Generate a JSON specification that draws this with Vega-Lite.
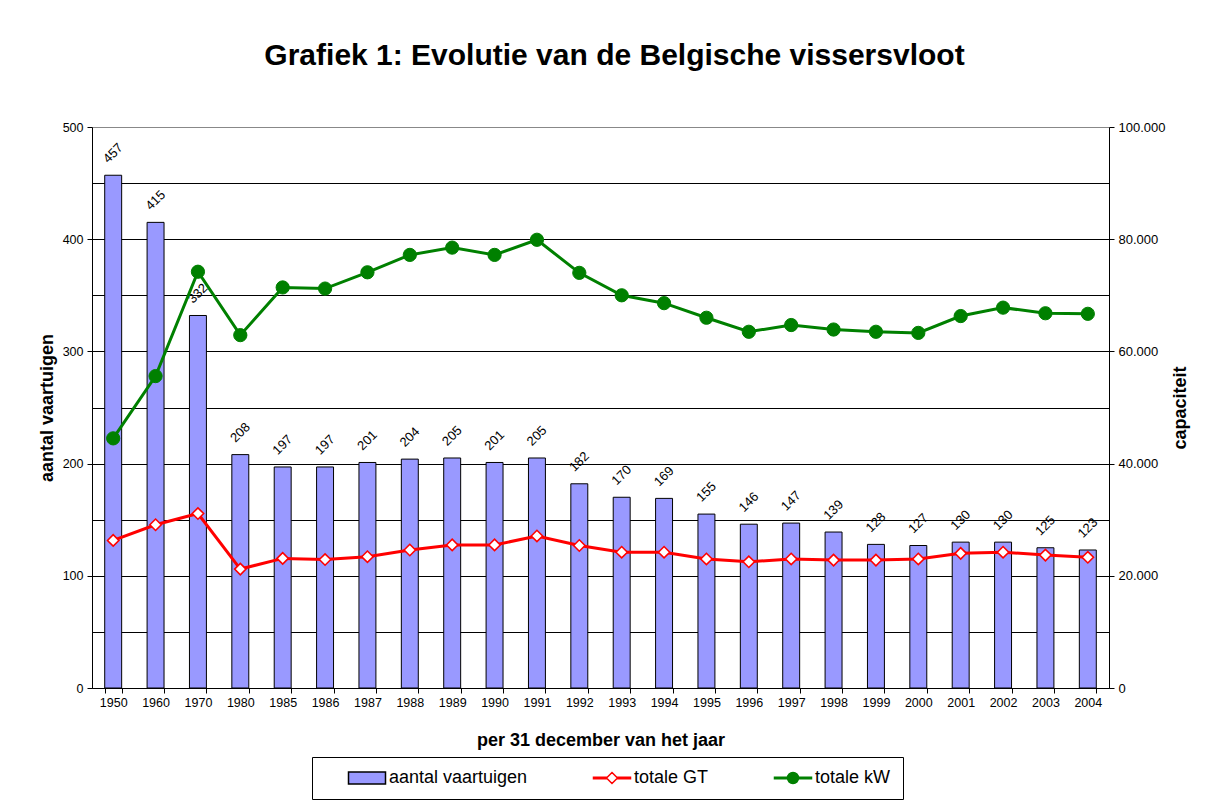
{
  "$schema": "https://vega.github.io/schema/vega-lite/v6.json",
  "width": 1017,
  "height": 561,
  "autosize": "none",
  "padding": {"left": 92, "top": 127, "right": 109, "bottom": 121},
  "background": "white",
  "config": {"font": "Liberation Sans", "view": {"stroke": null}},
  "title": {
    "text": "Grafiek 1: Evolutie van de Belgische vissersvloot",
    "fontSize": 30, "fontWeight": "bold", "font": "Liberation Sans", "color": "black",
    "anchor": "middle", "frame": "group", "offset": 50, "dx": 14
  },
  "datasets": {
    "vloot": [
      {"jaar": "1950", "aantal": 457, "gt": 26300, "kw": 44500},
      {"jaar": "1960", "aantal": 415, "gt": 29100, "kw": 55600},
      {"jaar": "1970", "aantal": 332, "gt": 31100, "kw": 74200},
      {"jaar": "1980", "aantal": 208, "gt": 21200, "kw": 62900},
      {"jaar": "1985", "aantal": 197, "gt": 23100, "kw": 71400},
      {"jaar": "1986", "aantal": 197, "gt": 22900, "kw": 71200},
      {"jaar": "1987", "aantal": 201, "gt": 23400, "kw": 74100},
      {"jaar": "1988", "aantal": 204, "gt": 24600, "kw": 77200},
      {"jaar": "1989", "aantal": 205, "gt": 25500, "kw": 78500},
      {"jaar": "1990", "aantal": 201, "gt": 25500, "kw": 77200},
      {"jaar": "1991", "aantal": 205, "gt": 27100, "kw": 79900},
      {"jaar": "1992", "aantal": 182, "gt": 25400, "kw": 74000},
      {"jaar": "1993", "aantal": 170, "gt": 24200, "kw": 70000},
      {"jaar": "1994", "aantal": 169, "gt": 24200, "kw": 68600},
      {"jaar": "1995", "aantal": 155, "gt": 23000, "kw": 66000},
      {"jaar": "1996", "aantal": 146, "gt": 22500, "kw": 63500},
      {"jaar": "1997", "aantal": 147, "gt": 23000, "kw": 64700},
      {"jaar": "1998", "aantal": 139, "gt": 22800, "kw": 63900},
      {"jaar": "1999", "aantal": 128, "gt": 22800, "kw": 63500},
      {"jaar": "2000", "aantal": 127, "gt": 23000, "kw": 63300},
      {"jaar": "2001", "aantal": 130, "gt": 24000, "kw": 66300},
      {"jaar": "2002", "aantal": 130, "gt": 24200, "kw": 67800},
      {"jaar": "2003", "aantal": 125, "gt": 23700, "kw": 66800},
      {"jaar": "2004", "aantal": 123, "gt": 23300, "kw": 66700}
    ],
    "legende": [
      {"series": "aantal vaartuigen"},
      {"series": "totale GT"},
      {"series": "totale kW"}
    ]
  },
  "data": {"name": "vloot"},
  "layer": [
    {
      "layer": [
        {
          "mark": {"type": "bar", "fill": "#9999FF", "stroke": "black", "strokeWidth": 1},
          "encoding": {
            "x": {
              "field": "jaar", "type": "ordinal", "sort": null,
              "scale": {"paddingInner": 0.6, "paddingOuter": 0.3},
              "axis": {
                "labelAngle": 0, "tickBand": "extent", "tickSize": 5, "tickColor": "black",
                "domainColor": "black", "labelFontSize": 12.5, "labelColor": "black", "labelPadding": 3,
                "title": "per 31 december van het jaar", "titleFontSize": 18, "titleFontWeight": "bold",
                "titleColor": "black", "titlePadding": 23, "grid": false
              }
            },
            "y": {
              "field": "aantal", "type": "quantitative",
              "scale": {"domain": [0, 500], "nice": false},
              "axis": {
                "values": [0, 50, 100, 150, 200, 250, 300, 350, 400, 450, 500],
                "grid": true,
                "gridColor": {"condition": {"test": "datum.value === 500", "value": "#888888"}, "value": "black"},
                "gridWidth": 1.2,
                "labelExpr": "datum.value % 100 === 0 ? datum.label : ''",
                "tickOpacity": {"condition": {"test": "datum.value % 100 === 0", "value": 1}, "value": 0},
                "tickSize": 5, "tickColor": "black", "domainColor": "black",
                "labelFontSize": 12.5, "labelColor": "black", "labelPadding": 4,
                "title": "aantal vaartuigen", "titleFontSize": 18, "titleFontWeight": "bold",
                "titleColor": "black", "titlePadding": 6
              }
            }
          }
        },
        {
          "mark": {"type": "text", "angle": 315, "align": "center", "baseline": "middle", "fontSize": 13, "color": "black", "yOffset": -22},
          "encoding": {
            "x": {"field": "jaar", "type": "ordinal", "sort": null},
            "y": {"field": "aantal", "type": "quantitative"},
            "text": {"field": "aantal", "type": "quantitative"}
          }
        }
      ]
    },
    {
      "layer": [
        {
          "mark": {"type": "line", "color": "red", "strokeWidth": 3},
          "encoding": {
            "x": {"field": "jaar", "type": "ordinal", "sort": null},
            "y": {
              "field": "gt", "type": "quantitative",
              "scale": {"domain": [0, 100000], "nice": false},
              "axis": {
                "orient": "right", "values": [0, 20000, 40000, 60000, 80000, 100000], "grid": false,
                "labelExpr": "replace(format(datum.value, ','), ',', '.')",
                "tickSize": 5, "tickColor": "black", "domainColor": "black",
                "labelFontSize": 13, "labelColor": "black", "labelPadding": 4,
                "title": "capaciteit", "titleAngle": 270, "titleFontSize": 18, "titleFontWeight": "bold",
                "titleColor": "black", "titlePadding": 25
              }
            }
          }
        },
        {
          "mark": {"type": "point", "shape": "diamond", "size": 130, "fill": "white", "stroke": "red", "strokeWidth": 1.6, "opacity": 1, "filled": true},
          "encoding": {
            "x": {"field": "jaar", "type": "ordinal", "sort": null},
            "y": {"field": "gt", "type": "quantitative"}
          }
        },
        {
          "mark": {"type": "line", "color": "green", "strokeWidth": 3},
          "encoding": {
            "x": {"field": "jaar", "type": "ordinal", "sort": null},
            "y": {"field": "kw", "type": "quantitative"}
          }
        },
        {
          "mark": {"type": "point", "shape": "circle", "size": 175, "fill": "green", "stroke": "green", "strokeWidth": 1, "opacity": 1, "filled": true},
          "encoding": {
            "x": {"field": "jaar", "type": "ordinal", "sort": null},
            "y": {"field": "kw", "type": "quantitative"}
          }
        },
        {
          "data": {"name": "legende"},
          "transform": [{"filter": "false"}],
          "mark": {"type": "point", "strokeWidth": 1.5, "opacity": 1},
          "encoding": {
            "shape": {
              "field": "series", "type": "nominal",
              "scale": {
                "domain": ["aantal vaartuigen", "totale GT", "totale kW"],
                "range": [
                  "M2.067,-0.8H7.0V0.8H2.067Z",
                  "M2.067,-0.1H3.8V0.1H2.067Z M5.267,-0.1H7.0V0.1H5.267Z M4.533,-0.733L5.267,0L4.533,0.733L3.8,0Z",
                  "M2.067,-0.1H3.867V0.1H2.067Z M5.2,-0.1H7.0V0.1H5.2Z M3.8,0A0.733,0.733 0 1,0 5.267,0A0.733,0.733 0 1,0 3.8,0Z"
                ]
              },
              "legend": {
                "title": null, "orient": "none", "legendX": 220, "legendY": 630,
                "direction": "horizontal", "columns": 3,
                "strokeColor": "black", "fillColor": "white", "padding": 12,
                "symbolSize": 225, "symbolStrokeWidth": 1.5,
                "labelFontSize": 18, "labelFont": "Liberation Sans", "labelColor": "black",
                "labelOffset": 47, "columnPadding": 41
              }
            },
            "fill": {
              "field": "series", "type": "nominal",
              "scale": {"domain": ["aantal vaartuigen", "totale GT", "totale kW"], "range": ["#9999FF", "white", "green"]}
            },
            "stroke": {
              "field": "series", "type": "nominal",
              "scale": {"domain": ["aantal vaartuigen", "totale GT", "totale kW"], "range": ["black", "red", "green"]}
            }
          }
        }
      ]
    }
  ],
  "resolve": {"scale": {"y": "independent"}}
}
